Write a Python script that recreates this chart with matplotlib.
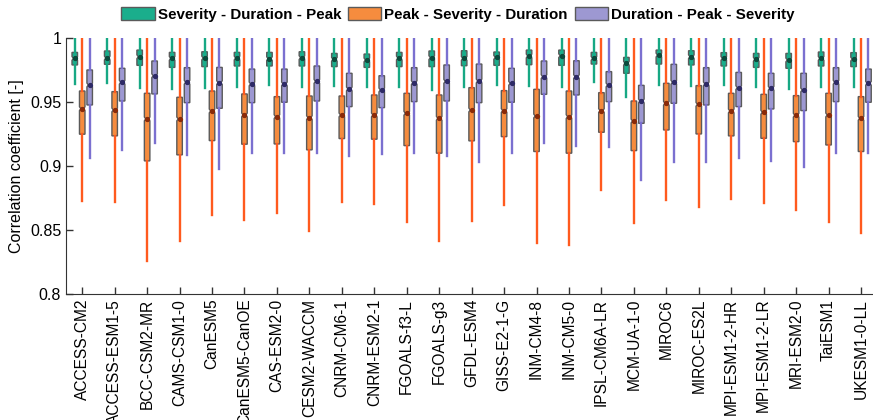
import matplotlib
matplotlib.use("Agg")
import matplotlib.pyplot as plt
from matplotlib.patches import Patch
import numpy as np

plt.rcParams['font.family'] = ['Liberation Sans', 'DejaVu Sans']

models = ["ACCESS-CM2", "ACCESS-ESM1-5", "BCC-CSM2-MR", "CAMS-CSM1-0", "CanESM5",
          "CanESM5-CanOE", "CAS-ESM2-0", "CESM2-WACCM", "CNRM-CM6-1", "CNRM-ESM2-1",
          "FGOALS-f3-L", "FGOALS-g3", "GFDL-ESM4", "GISS-E2-1-G", "INM-CM4-8",
          "INM-CM5-0", "IPSL-CM6A-LR", "MCM-UA-1-0", "MIROC6", "MIROC-ES2L",
          "MPI-ESM1-2-HR", "MPI-ESM1-2-LR", "MRI-ESM2-0", "TaiESM1", "UKESM1-0-LL"]

series_names = ["Severity - Duration - Peak", "Peak - Severity - Duration",
                "Duration - Peak - Severity"]

# Severity - Duration - Peak
sdp_q3 = [0.9884, 0.9895, 0.9902, 0.9884, 0.9889, 0.9884, 0.9884, 0.9889, 0.9876, 0.9871,
          0.9884, 0.9895, 0.9897, 0.9887, 0.9902, 0.9902, 0.9884, 0.9845, 0.9902, 0.9897,
          0.9882, 0.9876, 0.9876, 0.9887, 0.9882]
sdp_med = [0.9837, 0.9840, 0.9850, 0.9837, 0.9840, 0.9840, 0.9835, 0.9843, 0.9830, 0.9825,
           0.9840, 0.9843, 0.9837, 0.9845, 0.9856, 0.9858, 0.9837, 0.9799, 0.9863, 0.9850,
           0.9837, 0.9830, 0.9825, 0.9837, 0.9832]
sdp_q1 = [0.9786, 0.9791, 0.9783, 0.9767, 0.9773, 0.9778, 0.9778, 0.9778, 0.9773, 0.9767,
          0.9773, 0.9773, 0.9780, 0.9783, 0.9788, 0.9783, 0.9793, 0.9721, 0.9793, 0.9786,
          0.9778, 0.9767, 0.9760, 0.9778, 0.9773]
sdp_lo = [0.9635, 0.9643, 0.9609, 0.9599, 0.9604, 0.9617, 0.9630, 0.9617, 0.9625, 0.9617,
          0.9617, 0.9591, 0.9612, 0.9630, 0.9625, 0.9612, 0.9656, 0.9539, 0.9630, 0.9625,
          0.9630, 0.9617, 0.9596, 0.9617, 0.9612]

# Peak - Severity - Duration
psd_q3 = [0.9583, 0.9578, 0.9565, 0.9534, 0.9583, 0.9560, 0.9539, 0.9544, 0.9544, 0.9552,
          0.9565, 0.9552, 0.9609, 0.9586, 0.9596, 0.9583, 0.9570, 0.9505, 0.9643, 0.9625,
          0.9565, 0.9557, 0.9547, 0.9565, 0.9539]
psd_med = [0.9445, 0.9435, 0.9365, 0.9365, 0.9427, 0.9396, 0.9383, 0.9375, 0.9396, 0.9396,
           0.9409, 0.9370, 0.9435, 0.9430, 0.9388, 0.9383, 0.9430, 0.9349, 0.9487, 0.9479,
           0.9427, 0.9417, 0.9394, 0.9396, 0.9370]
psd_q1 = [0.9246, 0.9233, 0.9038, 0.9085, 0.9196, 0.9168, 0.9170, 0.9124, 0.9212, 0.9207,
          0.9157, 0.9098, 0.9194, 0.9227, 0.9111, 0.9098, 0.9261, 0.9118, 0.9279, 0.9248,
          0.9233, 0.9214, 0.9188, 0.9162, 0.9111]
psd_lo = [0.8729, 0.8721, 0.8259, 0.8417, 0.8617, 0.8578, 0.8628, 0.8493, 0.8721, 0.8703,
          0.8558, 0.8415, 0.8571, 0.8695, 0.8397, 0.8384, 0.8812, 0.8552, 0.8734, 0.8682,
          0.8739, 0.8708, 0.8656, 0.8558, 0.8475]

# Duration - Peak - Severity
dps_q3 = [0.9747, 0.9760, 0.9817, 0.9765, 0.9767, 0.9754, 0.9754, 0.9778, 0.9721, 0.9702,
          0.9765, 0.9786, 0.9793, 0.9760, 0.9817, 0.9819, 0.9734, 0.9627, 0.9791, 0.9765,
          0.9728, 0.9721, 0.9721, 0.9765, 0.9754]
dps_med = [0.9630, 0.9651, 0.9702, 0.9651, 0.9648, 0.9638, 0.9638, 0.9658, 0.9599, 0.9591,
           0.9648, 0.9658, 0.9661, 0.9643, 0.9695, 0.9695, 0.9630, 0.9505, 0.9651, 0.9638,
           0.9609, 0.9604, 0.9591, 0.9651, 0.9643]
dps_q1 = [0.9474, 0.9505, 0.9560, 0.9492, 0.9448, 0.9492, 0.9495, 0.9505, 0.9461, 0.9453,
          0.9500, 0.9505, 0.9492, 0.9495, 0.9557, 0.9552, 0.9500, 0.9331, 0.9487, 0.9474,
          0.9461, 0.9443, 0.9430, 0.9500, 0.9495]
dps_lo = [0.9064, 0.9124, 0.9181, 0.9085, 0.8976, 0.9098, 0.9103, 0.9103, 0.9079, 0.9092,
          0.9103, 0.9079, 0.9033, 0.9103, 0.9176, 0.9155, 0.9150, 0.8890, 0.9033, 0.9033,
          0.9064, 0.9038, 0.8994, 0.9103, 0.9103]

whisker_high = 1.0

fill_colors = ["#1aae8c", "#f68c3e", "#9d98d2"]
line_colors = ["#17a884", "#ff5a1e", "#7b70d0"]
med_colors = ["#0b4a3c", "#8a2a08", "#2e2a66"]

fig = plt.figure(figsize=(8.73, 4.20), dpi=100)
ax = fig.add_axes([66 / 873, 0.30, 1 - 66 / 873, 0.6107])

base = np.arange(1, len(models) + 1)
offsets = [-0.23, 0.0, 0.23]
width = 0.17

all_series = [(sdp_q1, sdp_med, sdp_q3, sdp_lo),
              (psd_q1, psd_med, psd_q3, psd_lo),
              (dps_q1, dps_med, dps_q3, dps_lo)]

for k, (q1, med, q3, lo) in enumerate(all_series):
    pos = base + offsets[k]
    stats = []
    for i in range(len(models)):
        stats.append(dict(q1=q1[i], med=med[i], q3=q3[i], whislo=lo[i],
                          whishi=whisker_high, cilo=med[i] - 0.0015,
                          cihi=med[i] + 0.0015, fliers=[]))
    ax.bxp(stats, positions=pos, widths=width, patch_artist=True,
           shownotches=True, showcaps=False, showfliers=False,
           boxprops=dict(facecolor=fill_colors[k], edgecolor="#5a5a5a", linewidth=1.0),
           whiskerprops=dict(color=line_colors[k], linewidth=1.7),
           medianprops=dict(color=med_colors[k], linewidth=1.0),
           manage_ticks=False)
    ax.plot(pos, med, 'o', color=med_colors[k], markersize=2.8, zorder=5)

ax.set_xlim(0.5, 0.5 + 807 / 32.45)
ax.set_ylim(0.8, 1.0)
ax.set_yticks([0.8, 0.85, 0.9, 0.95, 1.0])
ax.set_yticklabels(["0.8", "0.85", "0.9", "0.95", "1"])
ax.set_xticks(base)
ax.set_xticklabels(models, rotation=90, fontsize=11.2)
ax.tick_params(axis='both', direction='in', length=5, width=1, color="#333333")
ax.tick_params(axis='y', labelsize=11.5)
ax.set_ylabel("Correlation coefficient [-]", fontsize=11.5)
for s in ["top", "right"]:
    ax.spines[s].set_visible(False)
for s in ["left", "bottom"]:
    ax.spines[s].set_color("#333333")

handles = [Patch(facecolor=fill_colors[k], edgecolor="#5a5a5a", label=series_names[k])
           for k in range(3)]
fig.legend(handles=handles, loc='upper center', bbox_to_anchor=(458 / 873, 1.015),
           ncol=3, frameon=False, prop=dict(weight='bold', size=10.9),
           handlelength=2.2, handleheight=0.95, handletextpad=0.2, columnspacing=0.45)

fig.savefig("out.png", dpi=100)
